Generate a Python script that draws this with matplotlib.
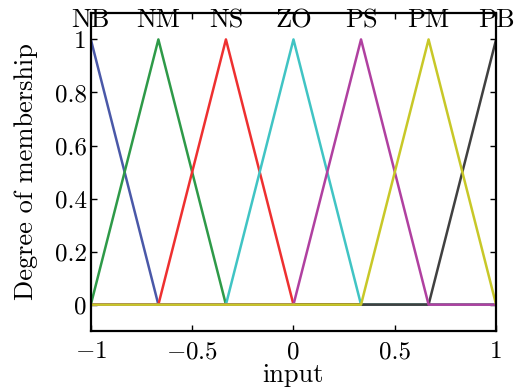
import numpy as np
import matplotlib
matplotlib.use('Agg')
import matplotlib.pyplot as plt
from matplotlib.ticker import FuncFormatter

plt.rcParams['font.family'] = 'serif'
plt.rcParams['font.serif'] = ['cmr10', 'DejaVu Serif']
plt.rcParams['mathtext.fontset'] = 'cm'
plt.rcParams['axes.unicode_minus'] = False

# fuzzy sets: name, (left, peak, right)
names = ['NB', 'NM', 'NS', 'ZO', 'PS', 'PM', 'PB']
lefts = [-1.0, -1.0, -2/3, -1/3, 0.0, 1/3, 2/3]
peaks = [-1.0, -2/3, -1/3, 0.0, 1/3, 2/3, 1.0]
rights = [-2/3, -1/3, 0.0, 1/3, 2/3, 1.0, 1.0]
colors = ['#4a58a8', '#2e9a48', '#ee3030', '#40c4c4', '#b040a0', '#c8c828', '#404040']
draw_order = [0, 1, 2, 3, 6, 4, 5]

xticks = [-1, -0.5, 0, 0.5, 1]
yticks = [0, 0.2, 0.4, 0.6, 0.8, 1]

x = np.linspace(-1, 1, 601)


def trimf(x, a, b, c):
    y = np.zeros_like(x)
    if b > a:
        m = (x >= a) & (x <= b)
        y[m] = (x[m] - a) / (b - a)
    if c > b:
        m = (x >= b) & (x <= c)
        y[m] = (c - x[m]) / (c - b)
    y[np.isclose(x, b)] = 1.0
    return y


def fmt(v, pos):
    s = '%g' % v
    if v < 0:
        return r'$-$' + s[1:]
    return s


fig = plt.figure(figsize=(5.25, 3.91), dpi=100)
ax = fig.add_axes([0.173, 0.153, 0.772, 0.814])

for i in draw_order:
    ax.plot(x, trimf(x, lefts[i], peaks[i], rights[i]), color=colors[i], lw=1.8)
for name, b in zip(names, peaks):
    ax.text(b, 1.045, name, ha='center', va='baseline', fontsize=19, clip_on=False)

ax.set_xlim(-1, 1)
ax.set_ylim(-0.1, 1.1)
ax.set_xticks(xticks)
ax.set_yticks(yticks)
ax.xaxis.set_major_formatter(FuncFormatter(fmt))
ax.yaxis.set_major_formatter(FuncFormatter(fmt))
ax.tick_params(direction='in', top=True, right=True, labelsize=18, width=1, length=4)
ax.tick_params(axis='y', pad=3)
ax.tick_params(axis='x', pad=7)
for lbl in ax.get_yticklabels():
    lbl.set_va('center_baseline')
for s in ax.spines.values():
    s.set_linewidth(1.6)
ax.set_xlabel('input', fontsize=19, labelpad=0)
ax.set_ylabel('Degree of membership', fontsize=19, labelpad=12)

fig.savefig('out.png', dpi=100)
